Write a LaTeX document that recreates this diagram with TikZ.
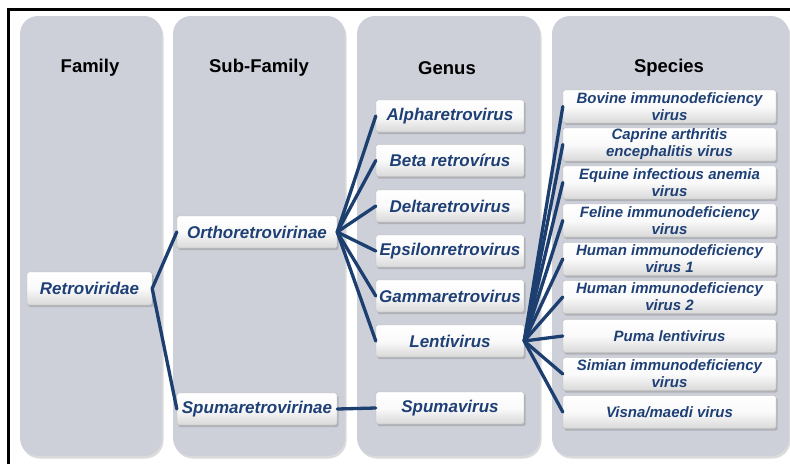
\documentclass[tikz,border=0pt]{standalone}
\usepackage{fontspec}
\setmainfont{Liberation Sans}
\usetikzlibrary{shadows}
\definecolor{panelc}{RGB}{205,208,217}
\definecolor{linec}{RGB}{28,63,112}
\definecolor{textc}{RGB}{30,64,118}
\tikzset{
  panel/.style={fill=panelc, rounded corners=18pt, draw=none,
    drop shadow={shadow xshift=1.5pt, shadow yshift=-2.5pt, opacity=0.35, fill=gray!80}},
  head/.style={font=\fontsize{18.5}{20}\selectfont\bfseries, text=black},
  tbox/.style={rectangle, draw=gray!55, line width=0.4pt, rounded corners=1.5pt,
    top color=white, bottom color=gray!30, middle color=white!96!gray,
    text=textc, inner sep=0pt, align=center,
    drop shadow={shadow xshift=1.5pt, shadow yshift=-2pt, opacity=0.45, fill=gray!90}},
  bigbox/.style={tbox, font=\fontsize{17}{19}\selectfont\bfseries\itshape, minimum height=33pt},
  spbox/.style={tbox, font=\fontsize{15}{16.8}\selectfont\bfseries\itshape,
    minimum width=213pt, minimum height=33pt},
  conn/.style={draw=linec, line width=3.3pt, line cap=round}
}
\begin{document}
\begin{tikzpicture}[x=1pt,y=-1pt]
\useasboundingbox (0,0) rectangle (790,464);
\fill[white] (0,0) rectangle (790,464);
% outer border lines
\draw[line width=3pt, black] (8.5,464) -- (8.5,9.5) -- (790,9.5);
% panels
\path[panel] (20,16) rectangle (162,456);
\path[panel] (173,16) rectangle (345,456);
\path[panel] (357,16) rectangle (540,456);
\path[panel] (552,16) rectangle (789,456);
% headers
\node[head] (hfam) at (90,68) {Family};
\node[head] (hsub) at (259,68) {Sub-Family};
\node[head] (hgen) at (447,68) {Genus};
\node[head] (hspe) at (669,68) {Species};
% family
\node[bigbox, minimum width=125pt] (retro) at (89.5,288.5) {Retroviridae};
% subfamily
\node[bigbox, minimum width=160pt, minimum height=32pt] (ortho) at (257,232) {Orthoretrovirinae};
\node[bigbox, minimum width=160pt, minimum height=32pt] (spumasub) at (257,409) {Spumaretrovirinae};
% genus
\tikzset{gbox/.style={bigbox, minimum width=148pt, minimum height=32pt}}
\node[gbox] (alpha) at (450,116) {Alpharetrovirus};
\node[gbox] (beta) at (450,160.5) {Beta retrovírus};
\node[gbox] (delta) at (450,206) {Deltaretrovirus};
\node[gbox] (eps) at (450,251) {Epsilonretrovirus};
\node[gbox] (gamma) at (450,296) {Gammaretrovirus};
\node[gbox] (lenti) at (450,341) {Lentivirus};
\node[gbox] (spuma) at (450,408) {Spumavirus};
% species
\node[spbox] (s1) at (669.5,106.5) {Bovine immunodeficiency\\virus};
\node[spbox] (s2) at (669.5,144.5) {Caprine arthritis\\encephalitis virus};
\node[spbox] (s3) at (669.5,182.5) {Equine infectious anemia\\virus};
\node[spbox] (s4) at (669.5,220.5) {Feline immunodeficiency\\virus};
\node[spbox] (s5) at (669.5,259) {Human immunodeficiency\\virus 1};
\node[spbox] (s6) at (669.5,297) {Human immunodeficiency\\virus 2};
\node[spbox] (s7) at (669.5,336) {Puma lentivirus};
\node[spbox] (s8) at (669.5,374) {Simian immunodeficiency\\virus};
\node[spbox] (s9) at (669.5,412) {Visna/maedi virus};
% connectors
\draw[conn] (retro.east) -- (ortho.west);
\draw[conn] (retro.east) -- (spumasub.west);
\foreach \g in {alpha,beta,delta,eps,gamma,lenti}{
  \draw[conn] (ortho.east) -- (\g.west);
}
\draw[conn] (spumasub.east) -- (spuma.west);
\foreach \s in {s1,s2,s3,s4,s5,s6,s7,s8,s9}{
  \draw[conn] (lenti.east) -- (\s.west);
}
\end{tikzpicture}
\end{document}
